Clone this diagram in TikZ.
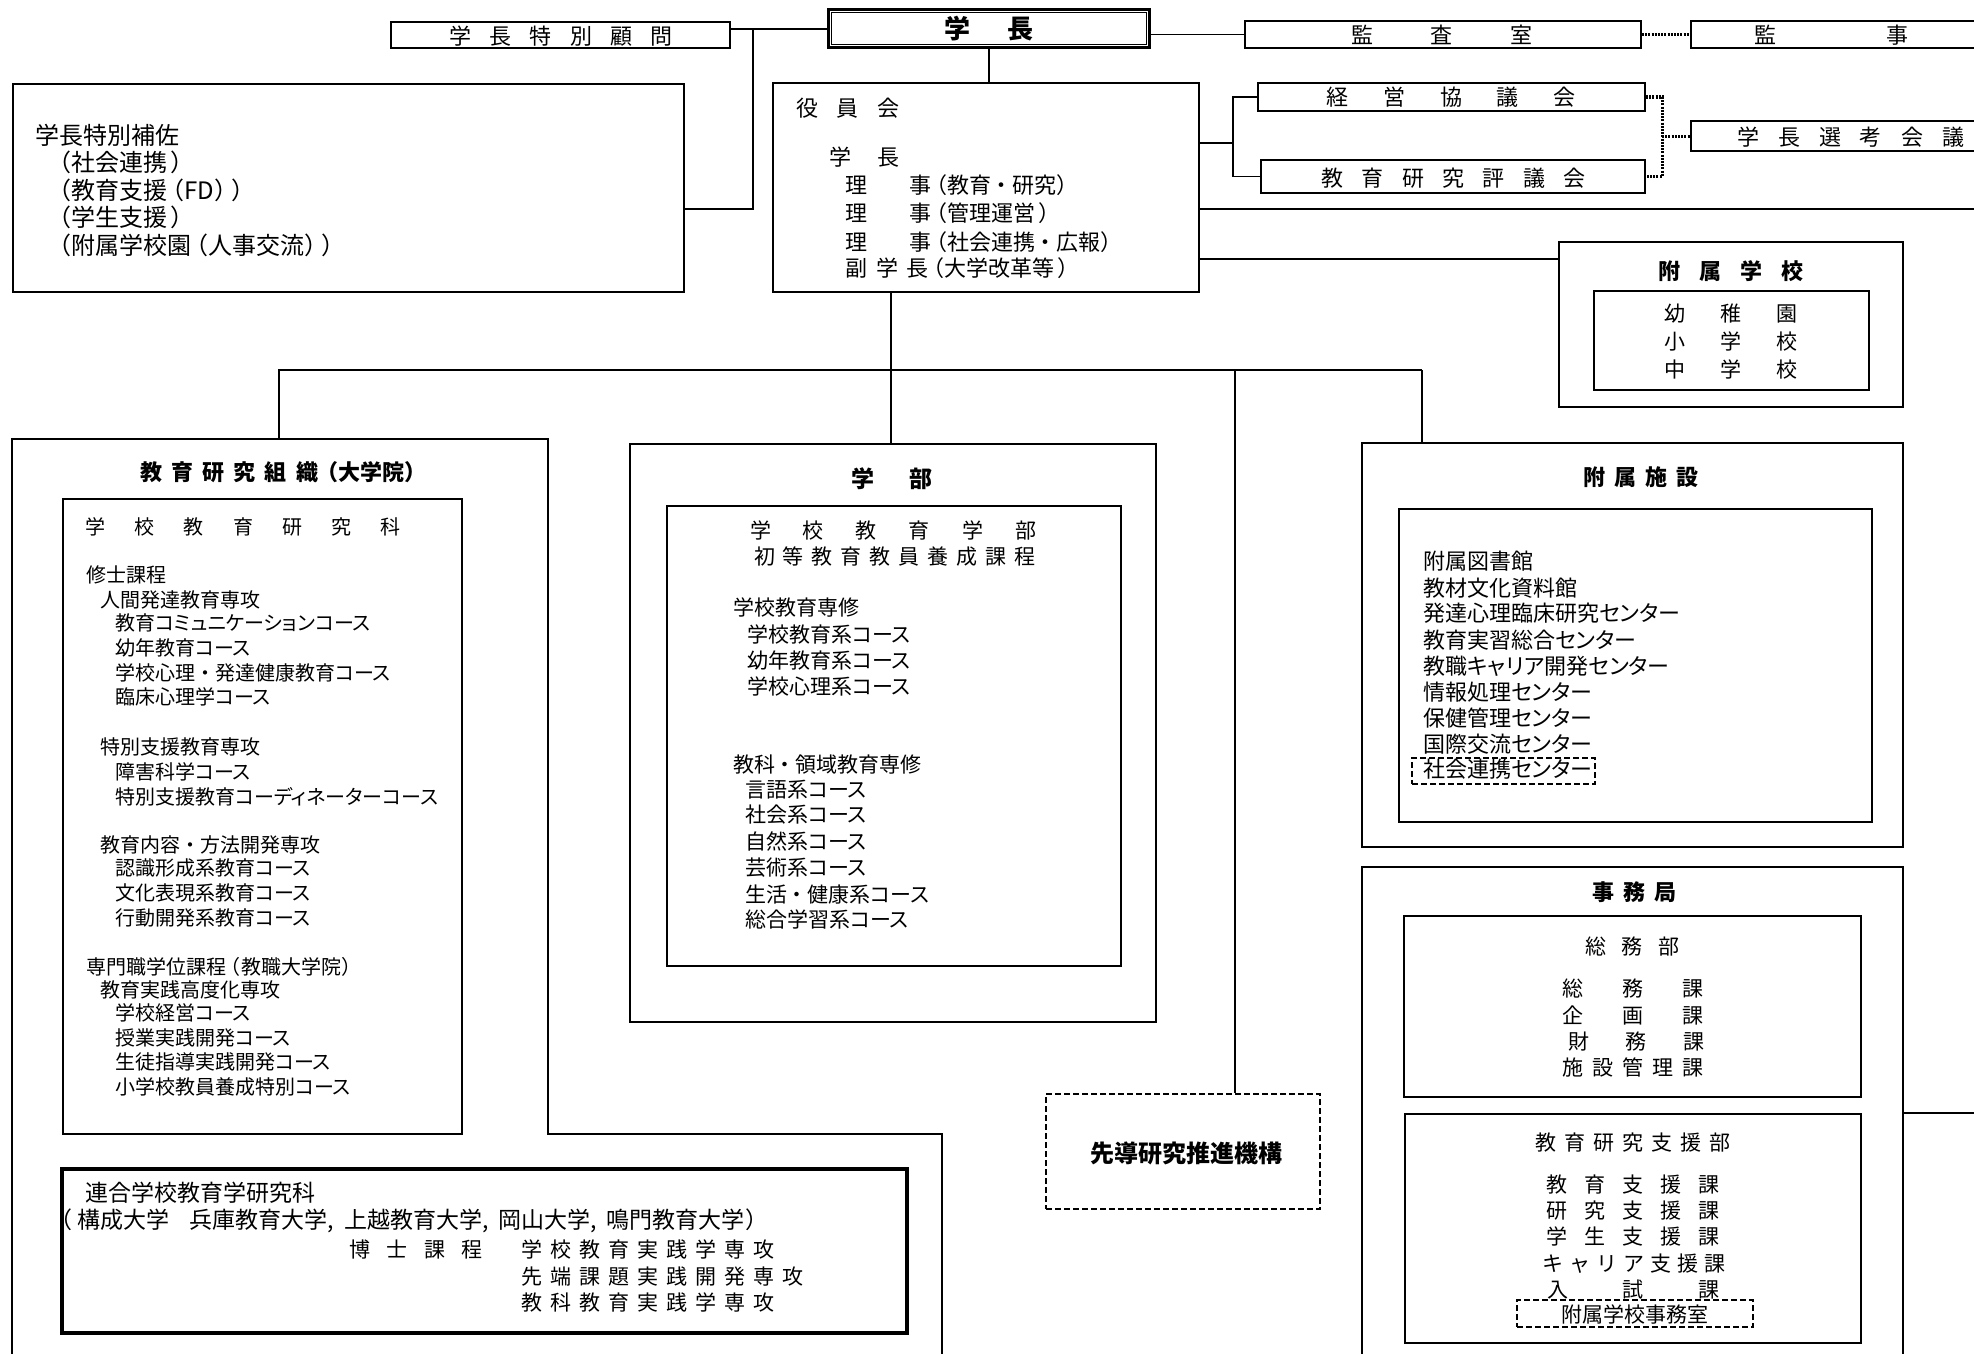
\documentclass[tikz,border=0pt]{standalone}
\usepackage{fontspec}
\setmainfont{Noto Sans CJK JP}[RawFeature=+palt]
\makeatletter
\newcommand\spread[2]{\@tfor\sp@c:=#2\do{\makebox[#1][c]{\sp@c}}}
\makeatother
\newcommand\fs[1]{\fontsize{#1pt}{#1pt}\selectfont}
\newcommand\LP{\kern4pt（\kern1pt}
\newcommand\RP{\kern1pt）\kern4pt}
\newcommand\DT{\kern5pt・\kern5pt}
\tikzset{
 box/.style={draw, line width=1.8pt, inner sep=0pt, rectangle},
 dbox/.style={draw, line width=2.2pt, dash pattern=on 6pt off 3pt, inner sep=0pt, rectangle},
 tx/.style={inner sep=0pt, anchor=west, font=\fs{#1}, text height={0.88*#1pt}, text depth={0.12*#1pt}},
 tx/.default=21,
 txc/.style={tx=#1, anchor=center},
 txc/.default=21,
 bx/.style={txc=#1, font=\fs{#1}\bfseries},
 ln/.style={line width=1.8pt},
 dl/.style={line width=3pt, dash pattern=on 2pt off 1.2pt},
}
\begin{document}
\begin{tikzpicture}[x=1pt,y=-1pt]
\useasboundingbox (0,0) rectangle (1974,1354);
\fill[white] (0,0) rectangle (1974,1354);
\begin{scope}
\clip (0,0) rectangle (1974,1354);

% ---------- top row ----------
\node[box, minimum width=339pt, minimum height=26pt] (komon) at (560.5,35) {};
\node[txc=22] (komonT) at (561,36) {\spread{40.4pt}{学長特別顧問}};

\node[draw, line width=3.5pt, inner sep=0pt, minimum width=321pt, minimum height=38pt] (gakucho) at (989,28.5) {};
\draw[line width=1.4pt] ([shift={(5,5)}]gakucho.north west) rectangle ([shift={(-5,-5)}]gakucho.south east);
\node[bx=26] (gakuchoT) at (989,29) {\spread{63pt}{学長}};

\node[box, minimum width=396pt, minimum height=27pt] (kansa) at (1443,34.5) {};
\node[txc=22] (kansaT) at (1442,35) {\spread{79.5pt}{監査室}};
\node[box, minimum width=319pt, minimum height=27pt] (kanji) at (1850.5,34.5) {};
\node[txc=22] (kanjiT) at (1831,35) {\spread{132pt}{監事}};

\node[box, minimum width=387pt, minimum height=28pt] (keiei) at (1451.5,97) {};
\node[txc=22] (keieiT) at (1451,97) {\spread{56.75pt}{経営協議会}};
\node[box, minimum width=384pt, minimum height=33pt] (kyoken) at (1453,176.5) {};
\node[txc=22] (kyokenT) at (1453.5,178) {\spread{40.3pt}{教育研究評議会}};
\node[box, minimum width=319pt, minimum height=30pt] (senko) at (1850.5,136) {};
\node[txc=22] (senkoT) at (1850.5,137) {\spread{41pt}{学長選考会議}};

% 学長特別補佐
\node[box, minimum width=671pt, minimum height=208pt] (hosa) at (348.5,188) {};
\node[tx=24] (h1) at (35,135) {学長特別補佐};
\node[tx=24] (h2) at (54.5,162) {\LP 社会連携\kern3pt\RP};
\node[tx=24] (h3) at (54.5,190) {\LP 教育支援\LP FD\RP\RP};
\node[tx=24] (h4) at (54.5,217) {\LP 学生支援\kern3pt\RP};
\node[tx=24] (h5) at (54.5,245) {\LP 附属学校園\LP 人事交流\RP\RP};

% 役員会
\node[box, minimum width=426pt, minimum height=209pt] (yakuin) at (986,187.5) {};
\node[tx=22] (y1) at (786.75,108) {\spread{40.5pt}{役員会}};
\node[tx=22] (y2) at (816,157) {\spread{48pt}{学長}};
\node[tx=22] (y3) at (845,185) {理\hspace{42pt}事\LP 教育\DT 研究\RP};
\node[tx=22] (y4) at (845,213) {理\hspace{42pt}事\LP 管理運営\kern3pt\RP};
\node[tx=22] (y5) at (845,242) {理\hspace{42pt}事\LP 社会連携\DT 広報\RP};
\node[tx=22] (y6) at (845,268) {副\hspace{9pt}学\hspace{8pt}長\LP 大学改革等\kern3pt\RP};

% 附属学校
\node[box, minimum width=344pt, minimum height=165pt] (fschool) at (1731,324.5) {};
\node[box, minimum width=275pt, minimum height=99pt] (fschoolin) at (1731.5,340.5) {};
\node[bx=22] (fsT) at (1731,271) {\spread{41pt}{附属学校}};
\node[txc=21] (fs1) at (1731,314) {\spread{56.5pt}{幼稚園}};
\node[txc=21] (fs2) at (1731,342) {\spread{56.5pt}{小学校}};
\node[txc=21] (fs3) at (1731,370) {\spread{56.5pt}{中学校}};

% ---------- top connectors ----------
\coordinate (j1) at (753,29);
\coordinate (j2) at (753,209);
\draw[ln] (komon.east |- j1) -- (gakucho.west |- j1);
\draw[ln] (j1) -- (j2) -- (hosa.east |- j2);
\draw[ln] (gakucho.east |- kansa.west) -- (kansa.west);
\draw[dl] (kansa.east) -- (kanji.west);
\draw[ln] (gakucho.south) -- (gakucho.south |- yakuin.north);
\coordinate (br) at (1233,143);
\draw[ln] (yakuin.east |- br) -- (br);
\draw[ln] (keiei.west) -| (br) |- (kyoken.west);
\coordinate (db) at (1662,136);
\draw[dl] (keiei.east) -| (db) |- (kyoken.east);
\draw[dl] (db) -- (senko.west);
\coordinate (rl1) at (2000,209);
\draw[ln] (yakuin.east |- rl1) -- (rl1);
\draw[ln] (yakuin.east |- 0,259) -- (fschool.west |- 0,259);

% ---------- bus ----------
\coordinate (bus) at (891,370);
\coordinate (busL) at (279,370);
\coordinate (busR) at (1422,370);
\coordinate (bs) at (1235,370);
\coordinate (soshikiTop) at (279,439);
\draw[ln] (yakuin.south -| bus) -- (bus);
\draw[ln] (soshikiTop) -- (busL) -- (busR);

% 教育研究組織（大学院）
\draw[ln] (12,1400) -- (12,439) -- (548,439) -- (548,1134) -- (942,1134) -- (942,1400);
\node[bx=22, anchor=west] (k0) at (135.4,472) {\spread{31.2pt}{教育研究組織}\LP 大学院\RP};
\node[box, minimum width=399pt, minimum height=635pt] (kenkyuka) at (262.5,816.5) {};
\node[txc=20] (k1) at (243,527) {\spread{49.3pt}{学校教育研究科}};
\node[tx=20] (k2) at (86,575) {修士課程};
\node[tx=20] (k3) at (100,600) {人間発達教育専攻};
\node[tx=20] (k4) at (115,623) {教育コミュニケーションコース};
\node[tx=20] (k5) at (115,648) {幼年教育コース};
\node[tx=20] (k6) at (115,673) {学校心理\DT 発達健康教育コース};
\node[tx=20] (k7) at (115,697) {臨床心理学コース};
\node[tx=20] (k8) at (100,747) {特別支援教育専攻};
\node[tx=20] (k9) at (115,772) {障害科学コース};
\node[tx=20] (k10) at (115,797) {特別支援教育コーディネーターコース};
\node[tx=20] (k11) at (100,845) {教育内容\DT 方法開発専攻};
\node[tx=20] (k12) at (115,868) {認識形成系教育コース};
\node[tx=20] (k13) at (115,893) {文化表現系教育コース};
\node[tx=20] (k14) at (115,918) {行動開発系教育コース};
\node[tx=20] (k15) at (86,967) {専門職学位課程\LP 教職大学院\RP};
\node[tx=20] (k16) at (100,990) {教育実践高度化専攻};
\node[tx=20] (k17) at (115,1013) {学校経営コース};
\node[tx=20] (k18) at (115,1038) {授業実践開発コース};
\node[tx=20] (k19) at (115,1062) {生徒指導実践開発コース};
\node[tx=20] (k20) at (115,1087) {小学校教員養成特別コース};

\node[box, line width=3.5pt, minimum width=845pt, minimum height=164pt] (rengo) at (484.5,1251) {};
\node[tx=23] (r1) at (85,1193) {連合学校教育学研究科};
\node[tx=23] (r2) at (58,1220) {\kern2pt（\kern6pt 構成大学\hspace{20pt}兵庫教育大学,\hspace{10pt}上越教育大学,\hspace{10pt}岡山大学,\hspace{10pt}鳴門教育大学\RP};
\node[txc=21] (r3) at (416,1250) {\spread{37.3pt}{博士課程}};
\node[tx=21] (r4) at (517.5,1250) {\spread{29pt}{学校教育実践学専攻}};
\node[tx=21] (r5) at (517.5,1277) {\spread{29pt}{先端課題実践開発専攻}};
\node[tx=21] (r6) at (517.5,1303) {\spread{29pt}{教科教育実践学専攻}};

% 学部
\node[box, minimum width=526pt, minimum height=578pt] (gakubu) at (893,733) {};
\node[box, minimum width=454pt, minimum height=460pt] (gakubuin) at (894,736) {};
\draw[ln] (bus) -- (bus |- gakubu.north);
\node[bx=23] (g0) at (892,479) {\spread{58pt}{学部}};
\node[txc=21] (g1) at (893,531) {\spread{53pt}{学校教育学部}};
\node[txc=21] (g2) at (895,557) {\spread{29pt}{初等教育教員養成課程}};
\node[tx=21] (g3) at (733,608) {学校教育専修};
\node[tx=21] (g4) at (747,635) {学校教育系コース};
\node[tx=21] (g5) at (747,661) {幼年教育系コース};
\node[tx=21] (g6) at (747,687) {学校心理系コース};
\node[tx=21] (g7) at (733,765) {教科\DT 領域教育専修};
\node[tx=21] (g8) at (745,790) {言語系コース};
\node[tx=21] (g9) at (745,815) {社会系コース};
\node[tx=21] (g10) at (745,842) {自然系コース};
\node[tx=21] (g11) at (745,868) {芸術系コース};
\node[tx=21] (g12) at (745,895) {生活\DT 健康系コース};
\node[tx=21] (g13) at (745,920) {総合学習系コース};

% 先導研究推進機構
\node[dbox, minimum width=274pt, minimum height=115pt] (sendo) at (1183,1151.5) {};
\node[bx=24] (s1) at (1186,1153) {先導研究推進機構};
\draw[ln] (bs) -- (bs |- sendo.north);

% 附属施設
\node[box, minimum width=541pt, minimum height=404pt] (shisetsu) at (1632.5,645) {};
\node[box, minimum width=473pt, minimum height=313pt] (shisetsuin) at (1635.5,665.5) {};
\draw[ln] (busR) -- (busR |- shisetsu.north);
\node[bx=22] (f0) at (1641,477) {\spread{31.3pt}{附属施設}};
\node[tx=22] (f1) at (1423,561) {附属図書館};
\node[tx=22] (f2) at (1423,588) {教材文化資料館};
\node[tx=22] (f3) at (1423,613) {発達心理臨床研究センター};
\node[tx=22] (f4) at (1423,640) {教育実習総合センター};
\node[tx=22] (f5) at (1423,666) {教職キャリア開発センター};
\node[tx=22] (f6) at (1423,692) {情報処理センター};
\node[tx=22] (f7) at (1423,718) {保健管理センター};
\node[tx=22] (f8) at (1423,744) {国際交流センター};
\node[dbox, minimum width=183pt, minimum height=26pt] (shakai) at (1503.5,771) {};
\node[tx=22] (f9) at (1423,769) {社会連携センター};

% 事務局
\node[box, minimum width=541pt, minimum height=533pt] (jimu) at (1632.5,1133.5) {};
\draw[ln] (jimu.east |- 0,1113) -- (2000,1113);
\node[bx=22] (m0) at (1634,892) {\spread{31pt}{事務局}};
\node[box, minimum width=457pt, minimum height=181pt] (somu) at (1632.5,1006.5) {};
\node[txc=21] (m1) at (1632,947) {\spread{36.5pt}{総務部}};
\node[txc=21] (m2) at (1633,989) {\spread{60pt}{総務課}};
\node[txc=21] (m3) at (1633,1016) {\spread{60pt}{企画課}};
\node[txc=21] (m4) at (1636,1042) {\spread{57.5pt}{財務課}};
\node[txc=21] (m5) at (1633,1068) {\spread{30pt}{施設管理課}};
\node[box, minimum width=456pt, minimum height=229pt] (kshien) at (1633,1228.5) {};
\node[txc=21] (n1) at (1633,1143) {\spread{29pt}{教育研究支援部}};
\node[txc=21] (n2) at (1633,1185) {\spread{38pt}{教育支援課}};
\node[txc=21] (n3) at (1633,1211) {\spread{38pt}{研究支援課}};
\node[txc=21] (n4) at (1633,1237) {\spread{38pt}{学生支援課}};
\node[txc=21] (n5) at (1634,1264) {\spread{27pt}{キャリア支援課}};
\node[txc=21] (n6) at (1633,1290) {\spread{75.5pt}{入試課}};
\node[dbox, minimum width=236pt, minimum height=27pt] (fjimu) at (1635,1313.5) {};
\node[txc=21] (n7) at (1635,1315) {附属学校事務室};
\end{scope}
\end{tikzpicture}
\end{document}
